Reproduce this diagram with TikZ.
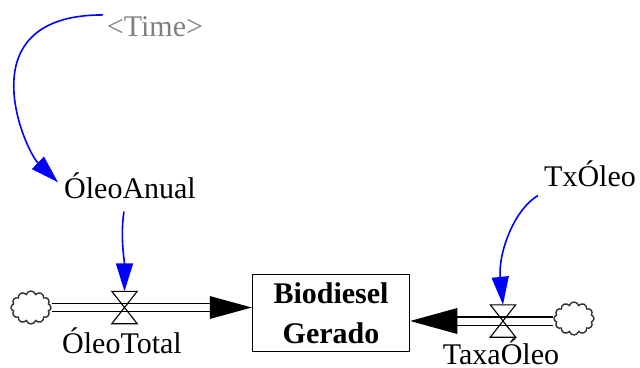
\documentclass[tikz,border=0pt]{standalone}
\usepackage{fontspec}
\setmainfont{Liberation Serif}
\usetikzlibrary{arrows.meta,shapes.symbols,calc}
\tikzset{
  var/.style={font=\fontsize{30}{32}\selectfont, inner sep=1pt},
  stockbox/.style={draw, line width=1.5pt, minimum width=157pt, minimum height=77pt,
    align=center, font=\fontsize{30}{40}\selectfont\bfseries, inner sep=0pt},
  puff/.style={cloud, cloud puffs=12, cloud puff arc=150, draw=black!80, line width=1.4pt,
    minimum width=40pt, minimum height=33pt, inner sep=0pt},
  valvebox/.style={minimum width=25pt, minimum height=32pt, inner sep=0pt},
  bowtie/.style={line width=1.1pt, line join=miter},
  pipe/.style={double, double distance=7pt, line width=1.3pt},
  link/.style={draw=blue, line width=1.6pt, -{Triangle[length=28pt,width=17pt]}},
}
\begin{document}
\begin{tikzpicture}[x=1pt,y=-1pt]
  \useasboundingbox (0,0) rectangle (640,367);
  %% stock
  \node[stockbox] (biodiesel) at (331,313) {\raisebox{-3pt}{Biodiesel}\\\raisebox{-3pt}{Gerado}};
  %% source and sink
  \node[puff] (srcL) at (31,307.5) {};
  \node[puff] (sinkR) at (574,318.5) {};
  %% valves
  \node[valvebox] (vL) at (124.5,307.5) {};
  \node[valvebox] (vR) at (503,321) {};
  %% variables
  \node[var, text=black!50, anchor=base] (time) at (155,36) {\textless Time\textgreater};
  \node[var, anchor=base] (anual) at (130,198) {ÓleoAnual};
  \node[var, anchor=base] (txoleo) at (590,186) {TxÓleo};
  \node[var, anchor=base] (total) at (122,353) {ÓleoTotal};
  \node[var, anchor=base] (taxa) at (501,364) {TaxaÓleo};
  %% flows
  \coordinate (inL) at (biodiesel.west |- srcL);
  \coordinate (inR) at (biodiesel.east |- vR);
  \draw[pipe] (srcL.east) -- ($(inL)+(-41,0)$);
  \draw[pipe] (sinkR.west |- vR) -- ($(inR)+(46,0)$);
  \fill (inL) -- ++(-42,-11.5) -- ++(0,23) -- cycle;
  \fill (inR) -- ++(47,-13) -- ++(0,26) -- cycle;
  \foreach \v in {vL,vR}
    \draw[bowtie] (\v.north west) -- (\v.north east) -- (\v.south west) -- (\v.south east) -- cycle;
  %% links
  \draw[link] ([xshift=-3pt]time.north west) .. controls +(-138,0) and +(-33,-32) .. ([shift={(-5,-3)}]anual.west);
  \draw[link] ([shift={(-6,12)}]anual.south) .. controls +(-4,25) and +(0,-30) .. (vL.north);
  \draw[link] ([shift={(-5,8)}]txoleo.south west) .. controls +(-25,15) and +(-5,-50) .. (vR.north);
\end{tikzpicture}
\end{document}
